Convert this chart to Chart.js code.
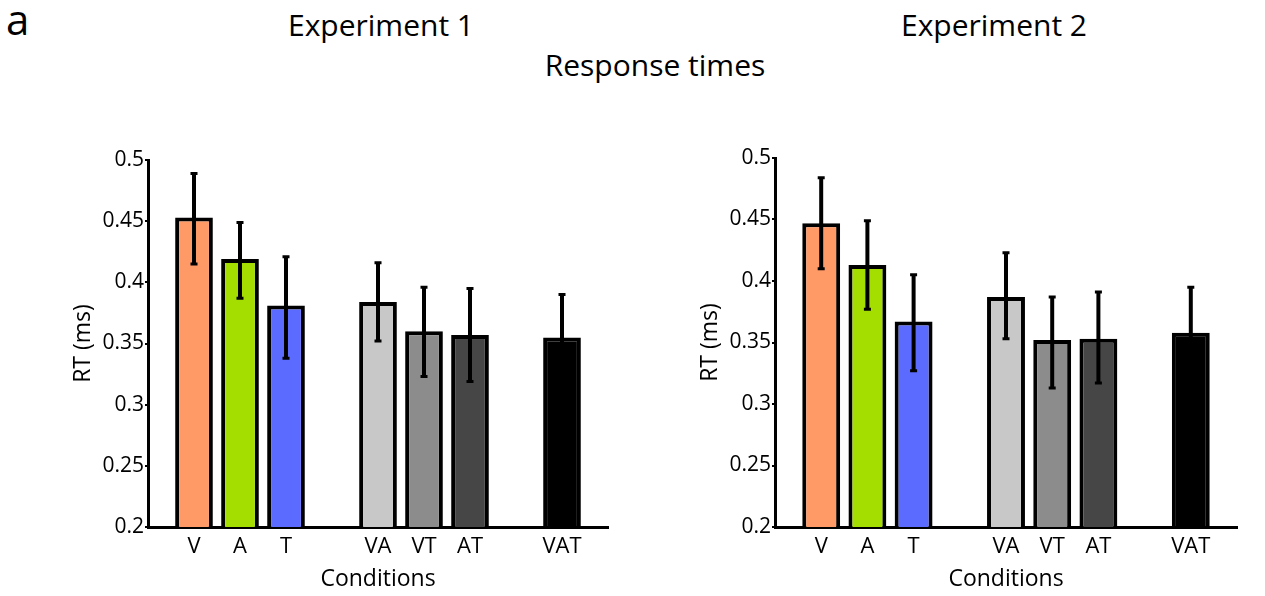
<!DOCTYPE html>
<html>
<head>
<meta charset="utf-8">
<title>Response times</title>
<script src="https://cdn.jsdelivr.net/npm/chart.js@4.4.1/dist/chart.umd.min.js"></script>
<style>
  body {
    margin: 0;
    width: 1265px;
    height: 596px;
    background: #fff;
    position: relative;
    overflow: hidden;
    font-family: "Open Sans", sans-serif;
    color: #000;
  }
  .txt {
    position: absolute;
    white-space: nowrap;
    line-height: 1;
  }
  .center { transform: translateX(-50%); }
  .panel { position: absolute; }
</style>
</head>
<body>
<div class="txt" style="left:6px; top:-2px; font-size:42px;">a</div>
<div class="txt center" style="left:381px; top:10px; font-size:30px;">Experiment 1</div>
<div class="txt center" style="left:994px; top:10px; font-size:30px;">Experiment 2</div>
<div class="txt center" style="left:655px; top:50px; font-size:30px;">Response times</div>

<div class="panel" style="left:0; top:120px;"><canvas id="exp1" width="640" height="476"></canvas></div>
<div class="panel" style="left:627px; top:118px;"><canvas id="exp2" width="638" height="478"></canvas></div>

<script>
// conditions, grouped (unisensory / bisensory / trisensory)
const GROUPS = [
  ["V", "A", "T"],
  ["VA", "VT", "AT"],
  ["VAT"],
];

const Y_TICKS = [0.2, 0.25, 0.3, 0.35, 0.4, 0.45, 0.5];

// Experiment 1: mean RT and error bar ends, per condition (V A T VA VT AT VAT)
const EXP1_MEAN = [0.453, 0.419, 0.381, 0.384, 0.360, 0.357, 0.355];
const EXP1_HIGH = [0.489, 0.449, 0.421, 0.416, 0.396, 0.395, 0.390];
const EXP1_LOW = [0.415, 0.387, 0.338, 0.352, 0.323, 0.319, 0.320];

// Experiment 2
const EXP2_MEAN = [0.447, 0.413, 0.367, 0.387, 0.352, 0.353, 0.358];
const EXP2_HIGH = [0.484, 0.449, 0.405, 0.423, 0.387, 0.391, 0.395];
const EXP2_LOW = [0.410, 0.377, 0.327, 0.353, 0.313, 0.317, 0.321];

const COLORS = {
  V: "#ff9966",
  A: "#a4dd00",
  T: "#5b6bff",
  VA: "#c8c8c8",
  VT: "#8c8c8c",
  AT: "#464646",
  VAT: "#000000",
};

Chart.defaults.font.family = '"Open Sans", sans-serif';
Chart.defaults.color = "#000";

// blank slots at both ends and between groups
function buildSlots() {
  const slots = [""];
  GROUPS.forEach((g) => {
    slots.push(...g);
    slots.push("");
  });
  return slots;
}

const SLOTS = buildSlots();
const CONDITIONS = GROUPS.flat();

function toSlots(values) {
  return SLOTS.map((s) => (s === "" ? null : values[CONDITIONS.indexOf(s)]));
}

const errorBars = {
  id: "errorBars",
  afterDatasetsDraw(chart, args, opts) {
    const { ctx } = chart;
    const y = chart.scales.y;
    const meta = chart.getDatasetMeta(0);
    ctx.save();
    ctx.strokeStyle = "#000";
    ctx.lineWidth = 4;
    ctx.lineCap = "butt";
    meta.data.forEach((bar, i) => {
      const lo = opts.low[i];
      const hi = opts.high[i];
      if (lo == null || hi == null) return;
      const x = bar.x;
      const yl = y.getPixelForValue(lo);
      const yh = y.getPixelForValue(hi);
      ctx.beginPath();
      ctx.moveTo(x, yl);
      ctx.lineTo(x, yh);
      ctx.stroke();
      ctx.lineWidth = 3;
      ctx.beginPath();
      ctx.moveTo(x - 3.5, yl);
      ctx.lineTo(x + 3.5, yl);
      ctx.moveTo(x - 3.5, yh);
      ctx.lineTo(x + 3.5, yh);
      ctx.stroke();
      ctx.lineWidth = 4;
    });
    ctx.restore();
  },
};

function makeChart(id, mean, low, high, padRight) {
  const ctx = document.getElementById(id).getContext("2d");
  return new Chart(ctx, {
    type: "bar",
    data: {
      labels: SLOTS,
      datasets: [
        {
          data: toSlots(mean),
          backgroundColor: SLOTS.map((s) => COLORS[s] || "#fff"),
          borderColor: "#000",
          borderWidth: 4,
          borderSkipped: false,
          barPercentage: 0.82,
          categoryPercentage: 1,
        },
      ],
    },
    options: {
      responsive: false,
      animation: false,
      layout: {
        padding: { left: 66, right: padRight, top: 40, bottom: 0 },
      },
      scales: {
        x: {
          type: "category",
          offset: false,
          grid: { display: false, drawTicks: false },
          border: { color: "#000", width: 3 },
          ticks: {
            autoSkip: false,
            maxRotation: 0,
            padding: 7,
            font: { size: 22 },
          },
          title: {
            display: true,
            text: "Conditions",
            font: { size: 23 },
            padding: { top: 0, bottom: 3 },
          },
          afterFit: (s) => {
            s.height = 69;
          },
        },
        y: {
          min: Y_TICKS[0],
          max: Y_TICKS[Y_TICKS.length - 1],
          afterBuildTicks: (s) => {
            s.ticks = Y_TICKS.map((v) => ({ value: v }));
          },
          grid: {
            drawOnChartArea: false,
            color: "#000",
            lineWidth: 2,
            tickLength: 3,
          },
          border: { color: "#000", width: 3 },
          ticks: {
            padding: 1,
            font: { size: 21 },
            callback: (v) => String(+v.toFixed(2)),
          },
          title: {
            display: true,
            text: "RT (ms)",
            font: { size: 23 },
          },
          afterFit: (s) => {
            s.width = 82;
          },
        },
      },
      plugins: {
        legend: { display: false },
        tooltip: { enabled: false },
        errorBars: { low: toSlots(low), high: toSlots(high) },
      },
    },
    plugins: [errorBars],
  });
}

makeChart("exp1", EXP1_MEAN, EXP1_LOW, EXP1_HIGH, 32);
makeChart("exp2", EXP2_MEAN, EXP2_LOW, EXP2_HIGH, 28);
</script>
</body>
</html>
